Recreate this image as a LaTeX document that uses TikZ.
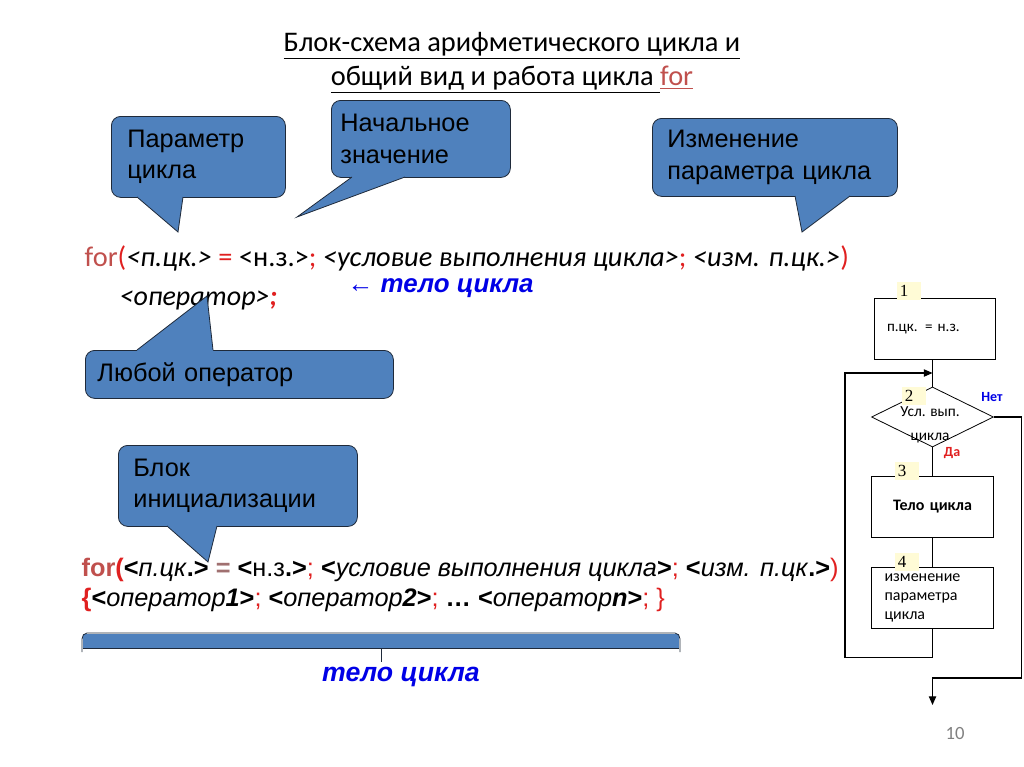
\documentclass[tikz,border=0pt]{standalone}
\usepackage{fontspec}
\setmainfont{Carlito}
\newfontfamily\arialf{Liberation Sans}
\newfontfamily\numfont{Liberation Serif}
\usetikzlibrary{shapes.geometric,arrows.meta}

\definecolor{callblue}{HTML}{4F81BD}
\definecolor{calledge}{HTML}{1F2A3A}
\definecolor{forred}{HTML}{C0504D}
\definecolor{hotred}{HTML}{E02020}
\definecolor{bodyblue}{HTML}{0000E6}
\definecolor{numbg}{HTML}{FFFBD6}
\definecolor{eqgray}{HTML}{A07070}

\tikzset{
  callbox/.style={draw=calledge, fill=callblue, line width=0.6pt, rounded corners=7pt,
    anchor=north west, align=left, inner ysep=0pt,
    font=\arialf\fontsize{19}{23.5}\selectfont},
  calltail/.style={draw=calledge, line width=0.6pt},
  flowbox/.style={draw, line width=0.6pt, minimum width=91.2pt, minimum height=45.5pt,
    inner xsep=9.5pt, text width=72pt, font=\fontsize{12}{14.25}\selectfont},
  flownum/.style={fill=numbg, anchor=north west, inner xsep=2pt, inner ysep=1pt,
    text width=14pt, align=left, text height=10pt, text depth=1pt,
    font=\numfont\fontsize{12.75}{13}\selectfont},
  flowline/.style={line width=0.8pt},
  flowarrow/.style={line width=0.8pt, -{Triangle[length=6.5pt,width=5.5pt]}}
}

\begin{document}
\begin{tikzpicture}[x=0.75pt,y=-0.75pt]
  \useasboundingbox (0,0) rectangle (1024,767);

  % Title
  \node[font=\fontsize{21.3}{25.5}\selectfont, align=center] (title) at (512,63)
    {\underline{Блок-схема арифметического цикла и}\\
     \underline{общий вид и работа цикла }\textcolor{forred}{\underline{for}}};

  % Short form of the loop
  \node[anchor=base west, font=\fontsize{21.3}{22}\selectfont] (forshort) at (80,266)
    {\textcolor{forred}{for}\textcolor{hotred}{(}\textit{<п.цк.>} \textcolor{hotred}{=} <н.з.>\textcolor{hotred}{;}
     \textit{<условие выполнения цикла>}\textcolor{hotred}{;} \textit{<изм. п.цк.>}\textcolor{hotred}{)}};
  \node[anchor=base west, font=\arialf\bfseries\itshape\fontsize{19.4}{22}\selectfont, text=bodyblue]
    (bodyarrow) at (343,292) {← тело цикла};
  \node[anchor=base west, font=\fontsize{21}{22}\selectfont] (oneop) at (115,305)
    {\textit{<оператор>}\textcolor{hotred}{\textbf{\textit{;}}}};

  % Full form of the loop
  \node[anchor=base west, font=\arialf\fontsize{19}{20}\selectfont] (forfull) at (77,576)
    {\textbf{\textcolor{forred}{for}\textcolor{hotred}{(}}\textbf{<}\textit{п.цк}\textbf{.>}
     \textbf{\textcolor{eqgray}{=}} \textbf{<}н.з\textbf{.>}\textcolor{hotred}{;}
     \textbf{<}\textit{условие выполнения цикла}\textbf{>}\textcolor{hotred}{;}
     \textbf{<}\textit{изм. п.цк}\textbf{.>}\textcolor{hotred}{)}};
  \node[anchor=base west, font=\arialf\fontsize{19}{20}\selectfont] (oplist) at (77,606)
    {\textbf{\textcolor{hotred}{\{}}\textbf{<}\textit{оператор\textbf{1}}\textbf{>}\textcolor{hotred}{;}
     \textbf{<}\textit{оператор\textbf{2}}\textbf{>}\textcolor{hotred}{;} \textbf{…}
     \textbf{<}\textit{оператор\textbf{n}}\textbf{>}\textcolor{hotred}{;} \textcolor{hotred}{\}}};

  % Brace under the loop body
  \fill[callblue] (83,634) rectangle (679,648);
  \draw[calledge, line width=0.6pt] (82,652) -- (82,639) to[out=90,in=180] (87,633)
    -- (675,633) to[out=0,in=90] (680,639) -- (680,652);
  \draw[calledge, line width=0.6pt] (83,648) -- (679,648);
  \draw[calledge, line width=0.6pt] (381,648) -- (381,662);
  \node[anchor=base, font=\arialf\bfseries\itshape\fontsize{20}{22}\selectfont, text=bodyblue]
    (bodylabel) at (401,681) {тело цикла};

  % Callouts
  \node[callbox, minimum width=130.5pt, minimum height=60.75pt, inner xsep=12pt, text width=106.5pt]
    (param) at (111,116) {Параметр\\цикла};
  \fill[callblue] (137,194) -- (137,197) -- (178,232) -- (183,197) -- (183,194) -- cycle;
  \draw[calltail] (137,197) -- (178,232) -- (183,197);

  \node[callbox, minimum width=134.25pt, minimum height=57.75pt, inner xsep=6.75pt, text width=120.75pt]
    (startval) at (331,100) {Начальное\\значение};
  \fill[callblue] (352,174) -- (352,177) -- (297,217) -- (405,177) -- (405,174) -- cycle;
  \draw[calltail] (352,177) -- (297,217) -- (405,177);

  \node[callbox, minimum width=183.75pt, minimum height=58.5pt, inner xsep=11.25pt, text width=161.25pt]
    (change) at (652,118) {Изменение\\параметра цикла};
  \fill[callblue] (795,193) -- (795,196) -- (802,232) -- (850,196) -- (850,193) -- cycle;
  \draw[calltail] (795,196) -- (802,232) -- (850,196);

  \node[callbox, minimum width=231pt, minimum height=36pt, inner xsep=9pt, text width=213pt]
    (anyop) at (85,350) {Любой оператор};
  \fill[callblue] (137,353) -- (137,350) -- (207,296) -- (213,350) -- (213,353) -- cycle;
  \draw[calltail] (137,350) -- (207,296) -- (213,350);

  \node[callbox, minimum width=179.25pt, minimum height=60.75pt, inner xsep=11.25pt, text width=156.75pt]
    (initblock) at (118,445) {Блок\\инициализации};
  \fill[callblue] (167,523) -- (167,526) -- (208,562) -- (217,526) -- (217,523) -- cycle;
  \draw[calltail] (167,526) -- (208,562) -- (217,526);

  % Flowchart
  \node[flowbox, align=left, font=\fontsize{11.3}{14}\selectfont] (init) at (935,329) {п.цк. = н.з.};
  \node[draw, diamond, line width=0.6pt, minimum width=91.5pt, minimum height=45pt, inner sep=0pt]
    (cond) at (932.5,417) {};
  \node[align=center, font=\fontsize{11.5}{18}\selectfont] (condtext) at (930,425) {Усл. вып.\\цикла};
  \node[flowbox, align=center, font=\bfseries\fontsize{12}{14.25}\selectfont] (body) at (932.5,507) {Тело цикла};
  \node[flowbox, align=left] (update) at (932.5,598) {изменение\\параметра\\цикла};

  \node[flownum] (num1) at (897,282) {1};
  \node[flownum] (num2) at (902,387) {2};
  \node[flownum] (num3) at (895,462) {3};
  \node[flownum] (num4) at (895,553) {4};

  \node[font=\bfseries\fontsize{10.5}{12}\selectfont, text=bodyblue] (no) at (992,397) {Нет};
  \node[font=\bfseries\fontsize{10.5}{12}\selectfont, text=hotred] (yes) at (952,453) {Да};

  \coordinate (loopin) at (932.5,373);
  \coordinate (exitend) at (932.5,705);
  \draw[flowline] (cond.north |- init.south) -- (cond.north);
  \draw[flowline] (cond.south) -- (body.north);
  \draw[flowline] (body.south) -- (update.north);
  \draw[flowarrow] (update.south) -- ++(0,29) -- ++(-87.5,0) |- (loopin);
  \draw[flowarrow] (cond.east) -- ++(28,0) -- ++(0,261) -| (exitend);

  % Page number
  \node[font=\fontsize{14}{14}\selectfont, text=gray] (pageno) at (955,733) {10};
\end{tikzpicture}
\end{document}
